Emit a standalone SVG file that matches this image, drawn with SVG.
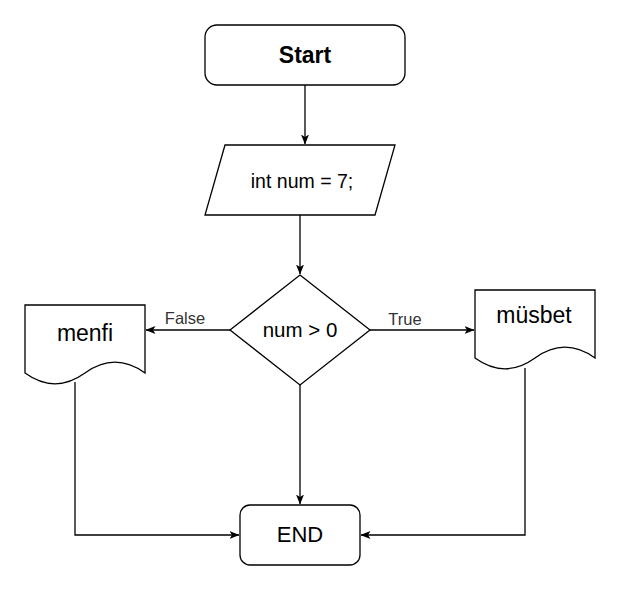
<svg xmlns="http://www.w3.org/2000/svg" width="622" height="592" viewBox="0 0 622 592">
<style>
.shape{fill:#ffffff;stroke:#000000;stroke-width:1.3}
.edge{fill:none;stroke:#000000;stroke-width:1.3}
.t{font-family:"Liberation Sans",Arial,sans-serif;fill:#000000;text-anchor:middle}
.lbl{font-family:"Liberation Sans",Arial,sans-serif;fill:#333333;text-anchor:middle;font-size:16.5px}
</style>
<defs>
<marker id="arr" viewBox="0 0 10 8" refX="9.5" refY="4" markerWidth="10" markerHeight="8" markerUnits="userSpaceOnUse" orient="auto">
<path d="M0,0 L10,4 L0,8 L2.5,4 z" fill="#000000"/>
</marker>
</defs>
<rect width="622" height="592" fill="#ffffff"/>
<g id="connectors">
<path class="edge" d="M305,85 V144" marker-end="url(#arr)"/>
<path class="edge" d="M300,215 V274" marker-end="url(#arr)"/>
<path class="edge" d="M230,330 H146" marker-end="url(#arr)"/>
<path class="edge" d="M370,330 H474" marker-end="url(#arr)"/>
<path class="edge" d="M300,385 V504" marker-end="url(#arr)"/>
<path class="edge" d="M75,382 V535 H239" marker-end="url(#arr)"/>
<path class="edge" d="M525,368 V535 H361" marker-end="url(#arr)"/>
<text class="lbl" x="185" y="324">False</text>
<text class="lbl" x="405" y="325">True</text>
</g>
<g id="start">
<rect class="shape" x="205" y="25" width="200" height="60" rx="12" ry="12"/>
<text class="t" x="305" y="63" font-size="23" font-weight="bold">Start</text>
</g>
<g id="input">
<polygon class="shape" points="225,145 395,145 375,215 205,215"/>
<text class="t" x="302" y="188" font-size="19.5">int num = 7;</text>
</g>
<g id="decision">
<polygon class="shape" points="300,275 370,330 300,385 230,330"/>
<text class="t" x="300" y="337" font-size="20.5">num &gt; 0</text>
</g>
<g id="menfi">
<path class="shape" d="M25,305 H145 V373 Q115,351.4 85,373 Q55,394.6 25,373 Z"/>
<text class="t" x="85" y="341" font-size="23">menfi</text>
</g>
<g id="musbet">
<path class="shape" d="M475,290 H595 V358 Q565,336.4 535,358 Q505,379.6 475,358 Z"/>
<text class="t" x="534" y="323" font-size="23">müsbet</text>
</g>
<g id="end">
<rect class="shape" x="240" y="505" width="120" height="60" rx="10" ry="10"/>
<text class="t" x="300" y="542" font-size="22">END</text>
</g>
</svg>
